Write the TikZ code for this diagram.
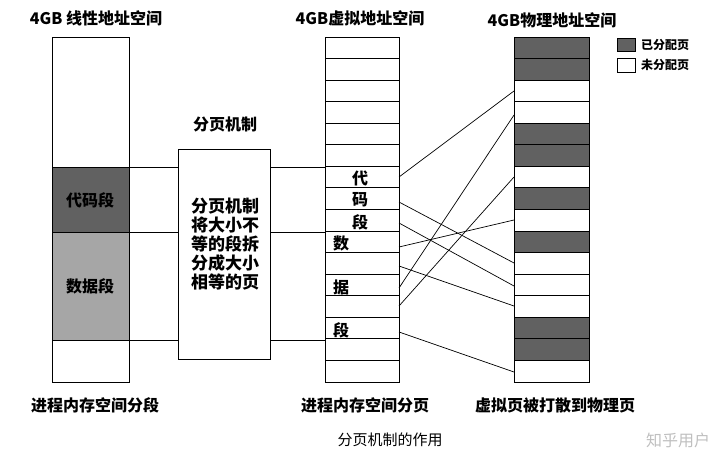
\documentclass[tikz,border=0pt]{standalone}
\usepackage{fontspec}
\setmainfont{Noto Sans CJK SC}
\begin{document}
\begin{tikzpicture}[x=1pt,y=-1pt,
  lbl/.style={font=\fontsize{16}{18}\selectfont\bfseries,inner sep=0},
  cell/.style={draw,line width=0.9pt},
  ln/.style={line width=0.7pt},
  dk/.style={fill=black!62},
  lt/.style={fill=black!35}]
\useasboundingbox (0,0) rectangle (720,468);
% titles
\node[lbl] (t1) at (96,18) {4GB 线性地址空间};
\node[lbl] (t2) at (360,18) {4GB虚拟地址空间};
\node[lbl] (t3) at (552,20) {4GB物理地址空间};
\node[lbl] (b1) at (95,405) {进程内存空间分段};
\node[lbl] (b2) at (365,405) {进程内存空间分页};
\node[lbl] (b3) at (555,405) {虚拟页被打散到物理页};
\node[font=\fontsize{15}{17}\selectfont,inner sep=0] (cap) at (390,440) {分页机制的作用};
\node[font=\fontsize{16}{18}\selectfont,text=black!25,inner sep=0] (wm) at (678,440) {知乎用户};
% left column
\draw[cell] (52,37) rectangle (129,382);
\draw[cell,dk] (52,167) rectangle (129,232);
\draw[cell,lt] (52,232) rectangle (129,340);
\node[lbl] (code) at (90,200) {代码段};
\node[lbl] (data) at (90,286) {数据段};
% mechanism
\node[lbl] (mt) at (225,124) {分页机制};
\node[draw,line width=0.9pt,minimum width=92pt,minimum height=210pt,inner sep=0] (mech) at (224,254) {};
\node[lbl,align=center,font=\fontsize{17}{19}\selectfont\bfseries] (mtext) at (225,244) {分页机制\\将大小不\\等的段拆\\分成大小\\相等的页};
% virtual
\foreach \i in {0,...,15} {\draw[cell] (325,37+\i*21.5625) rectangle (399,37+\i*21.5625+21.5625);}
% physical
\foreach \i in {0,...,15} {\draw[cell] (514,37+\i*21.5625) rectangle (589,37+\i*21.5625+21.5625);}
\foreach \i in {0,1,4,5,7,9,13,14} {\draw[cell,dk] (514,37+\i*21.5625) rectangle (589,37+\i*21.5625+21.5625);}
% virtual labels
\node[lbl] (c1) at (360,178) {代};
\node[lbl] (c2) at (360,200) {码};
\node[lbl] (c3) at (360,222) {段};
\node[lbl] (d1) at (341,243) {数};
\node[lbl] (d2) at (341,287) {据};
\node[lbl] (d3) at (341,330) {段};
% horizontal connectors
\foreach \y in {167,232,340} {
  \coordinate (la\y) at (129,\y); \coordinate (lb\y) at (178,\y);
  \coordinate (ra\y) at (270,\y); \coordinate (rb\y) at (325,\y);
  \draw[ln] (la\y) -- (lb\y); \draw[ln] (ra\y) -- (rb\y);}
% mapping lines
\foreach \a/\b in {177/91, 202/263, 223/286, 247/220, 266/306, 288/115, 306/177, 332/372} {
  \coordinate (va\a) at (399,\a); \coordinate (pb\a) at (514,\b);
  \draw[ln] (va\a) -- (pb\a);}
% legend
\draw[cell,dk] (617,38) rectangle (635,51);
\draw[cell] (617,58) rectangle (635,72);
\node[lbl,anchor=west,font=\fontsize{12}{14}\selectfont\bfseries] (l1) at (641,45) {已分配页};
\node[lbl,anchor=west,font=\fontsize{12}{14}\selectfont\bfseries] (l2) at (641,65) {未分配页};
\end{tikzpicture}
\end{document}
